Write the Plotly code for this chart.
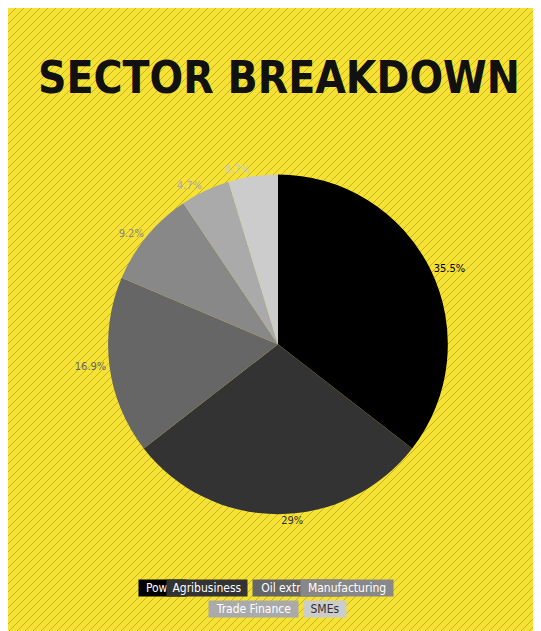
import plotly.graph_objects as go

sectors = ["Power", "Agribusiness", "Oil extraction", "Manufacturing", "Trade Finance", "SMEs"]
shares = [35.5, 29.0, 16.9, 9.2, 4.7, 4.7]
colors = ["#000000", "#333333", "#666666", "#888888", "#aaaaaa", "#cccccc"]
pct_labels = ["35.5%", "29%", "16.9%", "9.2%", "4.7%", "4.7%"]

W, H = 541, 631
FONT = "DejaVu Sans Condensed, Liberation Sans Narrow, sans-serif"

fig = go.Figure(go.Pie(
    labels=sectors, values=shares, text=pct_labels, texttemplate="%{text}",
    textposition="outside", sort=False, direction="clockwise", rotation=0,
    marker=dict(colors=colors, line=dict(width=0)),
    outsidetextfont=dict(color=colors, size=11, family=FONT),
    domain=dict(x=[0.185, 0.813], y=[0.197, 0.737]),
    hoverinfo="label+percent", showlegend=False,
))

shapes = []
step = 8
for k in range(-H, W + H, step):
    shapes.append(dict(type="line", xref="paper", yref="paper",
                       x0=k / W, y0=0, x1=(k + H) / W, y1=1,
                       line=dict(color="rgba(110,100,0,0.45)", width=0.8), layer="below"))

annotations = [dict(text="<b>SECTOR BREAKDOWN</b>", x=0.5, y=1 - 42 / H, xref="paper", yref="paper",
                    showarrow=False, font=dict(size=44, family=FONT, color="#111111"))]
# legend boxes: (left, right) in pixels
boxes = [(106, 153), (159, 239), (245, 334), (340, 432), (201, 290), (296, 338)]
txtcol = ["#ffffff", "#ffffff", "#ffffff", "#ffffff", "#ffffff", "#333333"]
for i, name in enumerate(sectors):
    l, r = boxes[i]
    y = 589 if i < 4 else 610
    annotations.append(dict(text=name, x=(l + r) / 2 / W, y=1 - y / H, xref="paper", yref="paper",
                            showarrow=False, bgcolor=colors[i], borderpad=1, width=r - l - 2,
                            font=dict(size=12, family=FONT, color=txtcol[i])))

fig.update_layout(width=W, height=H, margin=dict(l=0, r=0, t=0, b=0),
                  paper_bgcolor="#f6e135", plot_bgcolor="#f6e135",
                  shapes=shapes, annotations=annotations)
fig.write_html("out.html")
